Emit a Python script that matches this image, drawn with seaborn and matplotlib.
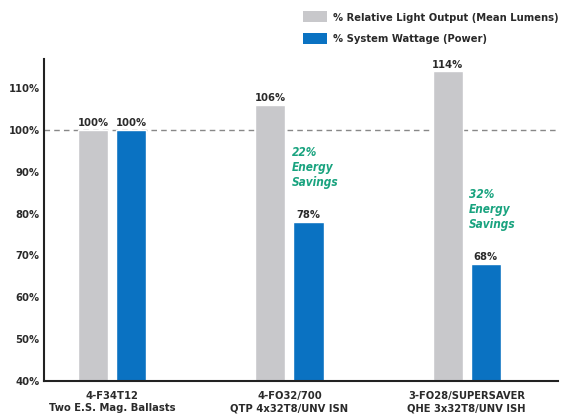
import matplotlib
matplotlib.use("Agg")
import matplotlib.pyplot as plt
import seaborn as sns
import pandas as pd
from matplotlib.patches import Patch

categories = ["4-F34T12\nTwo E.S. Mag. Ballasts",
              "4-FO32/700\nQTP 4x32T8/UNV ISN",
              "3-FO28/SUPERSAVER\nQHE 3x32T8/UNV ISH"]
series_names = ["% Relative Light Output (Mean Lumens)", "% System Wattage (Power)"]
light_output = [100, 106, 114]
wattage = [100, 78, 68]
savings = ["", "22%\nEnergy\nSavings", "32%\nEnergy\nSavings"]
yticks = [40, 50, 60, 70, 80, 90, 100, 110]

sns.set_theme(style="white")
plt.rcParams['font.family'] = ['DejaVu Sans']
plt.rcParams['font.stretch'] = 'condensed'

df = pd.DataFrame({
    "cat": categories * 2,
    "series": [series_names[0]] * 3 + [series_names[1]] * 3,
    "value": light_output + wattage,
})

gray = "#c8c8cb"
blue = "#0a72c2"
green = "#19a37f"
txtc = "#2a2a2a"

fig = plt.figure(figsize=(5.71, 4.15), dpi=100)
ax = fig.add_axes([0.077, 0.082, 0.900, 0.776])
sns.barplot(data=df, x="cat", y="value", hue="series", palette=[gray, blue],
            width=0.43, gap=0.21, ax=ax, legend=False, saturation=1)

ax.set_ylim(40, 117)
ax.set_xlim(-0.384, 2.514)
ax.set_yticks(yticks)
ax.set_yticklabels([f"{t}%" for t in yticks], fontsize=8, fontweight="bold", color=txtc)
ax.set_xticks(range(len(categories)))
ax.set_xticklabels(categories, fontsize=8, fontweight="bold", color=txtc, linespacing=1.3)
ax.tick_params(axis="x", length=0, pad=7)
ax.tick_params(axis="y", length=0, pad=3)
ax.set_xlabel("")
ax.set_ylabel("")
for s in ["top", "right"]:
    ax.spines[s].set_visible(False)
for s in ["left", "bottom"]:
    ax.spines[s].set_color("#222222")
    ax.spines[s].set_linewidth(1.5)

ax.axhline(100, color="#888888", linestyle=(0, (4, 3)), linewidth=1.0, zorder=0.5)

for cont in ax.containers:
    for bar in cont:
        h = bar.get_height()
        ax.text(bar.get_x() + bar.get_width() / 2, h + 0.4, f"{h:.0f}%",
                ha="center", va="bottom", fontsize=8, fontweight="bold", color=txtc)

blue_bars = ax.containers[1]
for i, txt in enumerate(savings):
    if txt:
        bar = blue_bars[i]
        ax.text(bar.get_x() - 0.01, wattage[i] + 7.8, txt, ha="left", va="bottom",
                fontsize=8.5, fontstyle="italic", fontweight="bold", color=green,
                linespacing=1.2)

handles = [Patch(facecolor=gray, edgecolor="none"), Patch(facecolor=blue, edgecolor="none")]
fig.legend(handles, series_names, loc="upper left", bbox_to_anchor=(0.513, 0.997),
           frameon=False, prop={"size": 8, "weight": "bold", "stretch": "condensed"},
           handlelength=2.2, handleheight=1.15, labelspacing=0.95, handletextpad=0.5,
           labelcolor=txtc)

fig.savefig("out.png", dpi=100, facecolor="white")
